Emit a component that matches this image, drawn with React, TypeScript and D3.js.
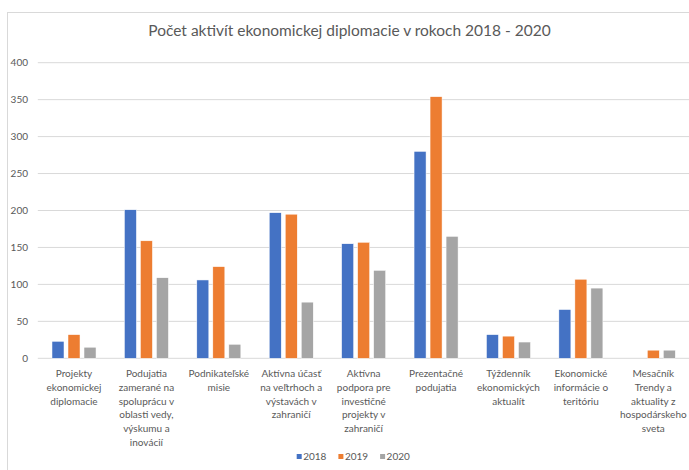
import React from "react";
import * as d3 from "d3";

const title = "Počet aktivít ekonomickej diplomacie v rokoch 2018 - 2020";
const categories: string[][] = [
  ["Projekty", "ekonomickej", "diplomacie"],
  ["Podujatia", "zamerané na", "spoluprácu v", "oblasti vedy,", "výskumu a", "inovácií"],
  ["Podnikateľské", "misie"],
  ["Aktívna účasť", "na veľtrhoch a", "výstavách v", "zahraničí"],
  ["Aktívna", "podpora pre", "investičné", "projekty v", "zahraničí"],
  ["Prezentačné", "podujatia"],
  ["Týždenník", "ekonomických", "aktualít"],
  ["Ekonomické", "informácie o", "teritóriu"],
  ["Mesačník", "Trendy a", "aktuality z", "hospodárskeho", "sveta"],
];
const seriesNames = ["2018", "2019", "2020"];
const values2018 = [23, 201, 106, 197, 155, 280, 32, 66, 0];
const values2019 = [32, 159, 124, 195, 157, 354, 30, 107, 11];
const values2020 = [15, 109, 19, 76, 119, 165, 22, 95, 11];
const yTicks = [0, 50, 100, 150, 200, 250, 300, 350, 400];

const colors = ["#4472C4", "#ED7D31", "#A5A5A5"];
const FONT = "Lato, 'Open Sans', sans-serif";

export default function App() {
  const W = 689, H = 470;
  const series = [values2018, values2019, values2020];
  const keys = categories.map((c) => c.join(" "));
  const x0 = d3.scaleBand<string>().domain(keys).range([37.8, 689.5]).paddingInner(0.392).paddingOuter(0.196);
  const x1 = d3.scaleBand<string>().domain(seriesNames).range([0, x0.bandwidth()]).paddingInner(0.25);
  const y = d3.scaleLinear().domain([0, 400]).range([358.3, 62.7]);
  const gridLeft = 37.8;
  const gridRight = 689;

  return (
    <svg width={W} height={H} style={{ position: "absolute", left: 0, top: 0, background: "#fff" }}>
      <rect x={7.5} y={12.5} width={W} height={H} fill="#fff" stroke="#d9d9d9" strokeWidth={1} />
      <text x={349.5} y={35.5} textAnchor="middle" fontFamily={FONT} fontSize={15.5} fill="#595959">
        {title}
      </text>
      {yTicks.map((t) => (
        <g key={t}>
          <line x1={gridLeft} x2={gridRight} y1={y(t)} y2={y(t)} stroke="#d9d9d9" strokeWidth={1} />
          <text x={28} y={y(t)} dy="0.35em" textAnchor="end" fontFamily={FONT} fontSize={10} fill="#595959">
            {t}
          </text>
        </g>
      ))}
      {keys.map((k, i) => (
        <g key={k} transform={`translate(${x0(k)},0)`}>
          {series.map((s, j) =>
            s[i] > 0 ? (
              <rect
                key={j}
                x={x1(seriesNames[j])}
                y={y(s[i])}
                width={x1.bandwidth()}
                height={y(0) - y(s[i])}
                fill={colors[j]}
                stroke="#fff"
                strokeWidth={0.5}
              />
            ) : null
          )}
        </g>
      ))}
      {keys.map((k, i) => (
        <text
          key={k}
          x={(x0(k) as number) + x0.bandwidth() / 2}
          y={377}
          textAnchor="middle"
          fontFamily={FONT}
          fontSize={10}
          fill="#595959"
        >
          {categories[i].map((line, li) => (
            <tspan key={li} x={(x0(k) as number) + x0.bandwidth() / 2} y={377 + li * 13.8}>
              {line}
            </tspan>
          ))}
        </text>
      ))}
      {seriesNames.map((n, j) => {
        const lx = 296.7 + j * 41.7;
        return (
          <g key={n}>
            <rect x={lx} y={454} width={5} height={5} fill={colors[j]} />
            <text x={lx + 6.5} y={456.7} dy="0.35em" fontFamily={FONT} fontSize={10} fill="#595959">
              {n}
            </text>
          </g>
        );
      })}
    </svg>
  );
}
